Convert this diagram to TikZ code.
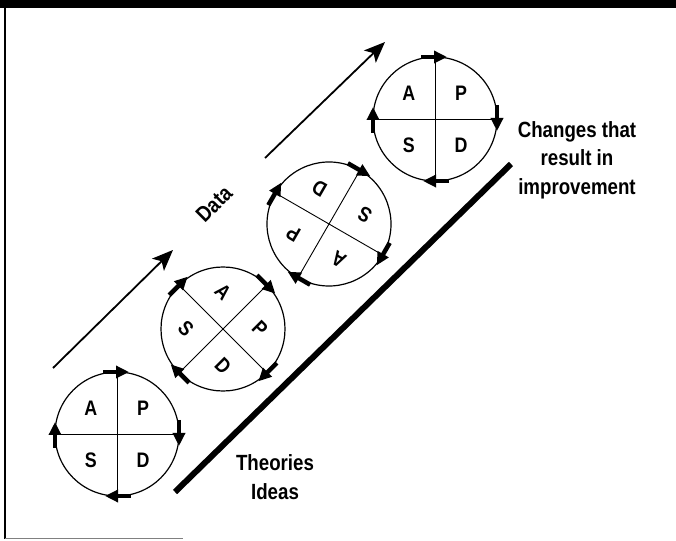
\documentclass[tikz,border=0pt]{standalone}
\usepackage{fontspec}
\setmainfont[FakeStretch=0.85]{Liberation Sans}
\usepackage{tikz}
\usetikzlibrary{arrows.meta, positioning, calc}

\begin{document}
\begin{tikzpicture}[
    x=1pt, y=1pt,
    cyc/.style={circle, draw, line width=1.2pt, minimum size=124pt, inner sep=0pt, outer sep=0pt},
    ltr/.style={inner sep=0pt, font=\fontsize{21}{21}\selectfont\bfseries},
    cycarrow/.style={line width=4.5pt, -{Triangle[length=13pt, width=12pt]}},
    flow/.style={line width=1.8pt, -{Stealth[length=21pt, width=17pt, inset=5pt]}},
    lbl/.style={align=center, font=\fontsize{22}{28.5}\selectfont\bfseries}
]
\useasboundingbox (0,0) rectangle (676,540);

% Frame
\fill (0,532) rectangle (676,540);
\draw[line width=1.2pt] (5,532) -- (5,1);
\draw[line width=1pt, gray] (5,1.5) -- (183,1.5);

% PDSA cycles
\foreach \n/\x/\y/\r in {1/117/106/0, 2/223/211/-45, 3/329/316/150, 4/435/421/0} {
  \node[cyc, rotate=\r] (c\n) at (\x,\y) {};
  \draw[line width=0.9pt] (c\n.north) -- (c\n.south);
  \draw[line width=0.9pt] (c\n.west) -- (c\n.east);
  \foreach \l/\a in {A/135, P/45, D/-45, S/-135} {
    \pgfmathsetmacro\ang{\r+\a}
    \node[ltr, rotate=\r] (\l\n) at ($(c\n.center)+(\ang:37)$) {\l};
  }
  \foreach \t in {90, 0, -90, 180} {
    \pgfmathsetmacro\ang{\r+\t}
    \draw[cycarrow] ($(c\n.center)+(\ang:62)+(\ang+90:14)$) -- ($(c\n.center)+(\ang:62)+(\ang-90:12)$);
  }
}

% Ramp
\coordinate (rampA) at (175,48);
\coordinate (rampB) at (511,376);
\draw[line width=6pt] (rampA) -- (rampB);

% Data arrows
\coordinate (lowA) at (53,172);
\coordinate (lowB) at (173,290);
\coordinate (upA) at (265,382);
\coordinate (upB) at (385,498);
\draw[flow] (lowA) -- (lowB);
\draw[flow] (upA) -- (upB);

% Labels
\node[font=\fontsize{22}{22}\selectfont\bfseries, rotate=45, inner sep=0pt] (data) at (214,336) {Data};
\node[lbl] (changes) at (577,380) {Changes that\\result in\\improvement};
\node[lbl] (theories) at (275,63) {Theories\\Ideas};

\end{tikzpicture}
\end{document}
